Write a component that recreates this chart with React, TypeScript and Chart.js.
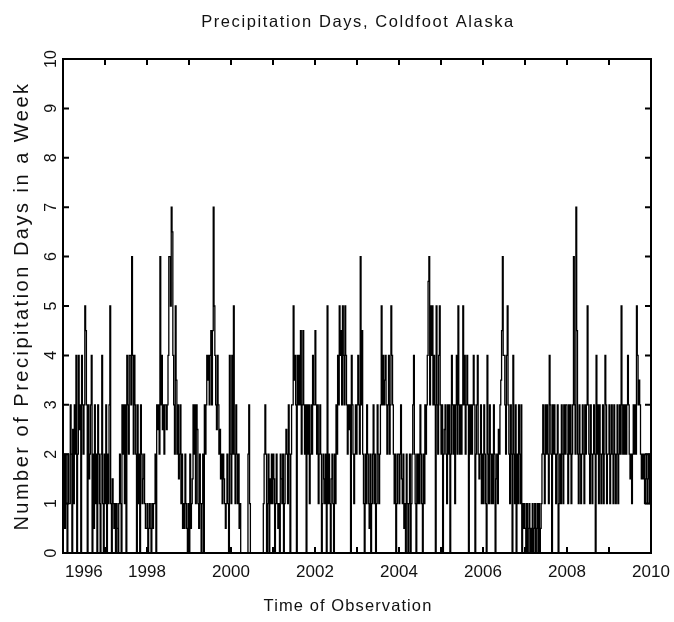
import React, { useEffect, useRef } from 'react';
import { Chart, registerables } from 'chart.js';

Chart.register(...registerables);

// ---------- text ----------
const chartTitle = 'Precipitation Days, Coldfoot Alaska';
const xAxisTitle = 'Time of Observation';
const yAxisTitle = 'Number of Precipitation Days in a Week';

// ---------- axes ----------
const xMin = 1996;
const xMax = 2010;
const yMin = 0;
const yMax = 10;
const xTickLabels = ['1996', '1998', '2000', '2002', '2004', '2006', '2008', '2010'];
const yTickLabels = ['0', '1', '2', '3', '4', '5', '6', '7', '8', '9', '10'];

// ---------- weekly precipitation days (52 weeks per year) ----------
const years = [1996, 1997, 1998, 1999, 2000, 2001, 2002, 2003, 2004, 2005, 2006, 2007, 2008, 2009];

const w1996 = [0, 1, 2, 0.5, 2, 1, 0, 2, 1, 1, 3, 2, 0, 2.5, 1, 3, 2, 4, 0, 2, 4, 2.5, 3, 0, 4, 3, 2, 3, 5, 4.5, 3, 0, 3, 1.5, 2, 3, 4, 0, 2, 0.5, 3, 1, 2, 0, 3, 2, 1, 0, 2, 4, 1, 0];
const w1997 = [2, 1, 3, 0, 2, 1, 3, 5, 1, 0, 1.5, 1, 0.5, 1, 0, 1, 0.5, 0, 1, 2, 1, 0, 3, 2, 3, 1, 3, 0, 4, 3, 2, 4, 4, 3, 6, 4, 2, 4, 3, 2, 0, 3, 1, 2, 0, 3, 2, 1, 1.5, 2, 1, 0.5];
const w1998 = [0.5, 1, 0, 0.5, 1, 0.5, 0, 1, 0.5, 1, 1, 2, 0, 3, 2.5, 3, 2, 6, 3, 4, 2.5, 3, 2, 3, 3, 2.5, 3, 4, 6, 6, 5, 7, 6.5, 4, 3, 2, 5, 3.5, 2, 3, 1.5, 2, 3, 1, 2, 0.5, 1, 0.5, 2, 1, 0.5, 0];
const w1999 = [1, 0, 2, 0.5, 1, 1.5, 3, 2, 3, 1, 3, 2.5, 1, 0.5, 2, 1, 0, 1, 2, 0, 3, 2, 3, 4, 3.5, 4, 3, 4, 4.5, 3, 4.5, 7, 5, 4, 3, 2.5, 4, 3, 2, 2.5, 1.5, 2, 1, 2, 1.5, 1, 0.5, 1, 2, 1, 0, 4];
const w2000 = [2, 1, 4, 2, 5, 2, 1, 3, 2, 1, 2, 0.5, 1, 0, 0, 0, 0, 0, 0, 0, 0, 0, 2, 3, 1, 0, 0, 0, 0, 0, 0, 0, 0, 0, 0, 0, 0, 0, 0, 0, 0, 1, 2, 3, 2, 0, 1, 2, 0, 1.5, 1, 2];
const w2001 = [1, 2, 1.5, 0, 1, 2, 1, 0.5, 1, 0, 2, 1.5, 1, 2, 0, 1, 2, 2.5, 2, 1, 3, 2, 0, 2, 3, 3, 5, 3.5, 4, 3, 0, 4, 3, 4, 3, 4.5, 2, 3, 4.5, 3, 2, 3, 0, 3, 2, 3, 1, 2, 3, 2, 4, 3];
const w2002 = [3, 4.5, 3, 2, 3, 1, 2, 3, 2, 0, 1, 2, 1.5, 1, 2, 0, 5, 1, 2, 1, 0, 1.5, 2, 1, 0, 2, 1, 3, 2, 4, 3, 5, 4, 4.5, 3, 5, 4, 3, 5, 4, 3, 2, 3, 2.5, 3, 0, 4, 3, 2, 1, 2, 3];
const w2003 = [2, 3, 4, 3, 2, 6, 3, 4.5, 2, 1, 0, 2, 1, 3, 2, 1, 0.5, 2, 0, 1, 2, 3, 1, 2, 0, 1, 3, 2, 1, 2, 3, 5, 3, 4, 3, 3.5, 4, 3, 2, 3, 4, 2, 3, 5, 4, 3, 2, 1, 2, 0, 1, 2];
const w2004 = [2, 1, 2, 3, 1.5, 1, 2, 0.5, 1, 0, 2, 1, 0, 1, 2, 0, 1, 2, 3, 4, 2, 1, 0, 2, 1, 2, 1, 3, 2, 1, 0, 2, 1, 3, 2, 3, 4, 5.5, 6, 3, 5, 4, 5, 3, 4, 3, 0, 5, 3, 2, 4, 5];
const w2005 = [3, 2, 3, 0, 2, 2.5, 3, 2, 1, 3, 2, 3, 0, 2, 4, 3, 2, 3, 1, 3, 4, 2, 5, 3, 2, 3, 2, 3, 5, 3, 4, 2, 3, 4, 3, 0, 3, 2, 3, 2, 3, 4, 3, 0, 2, 3, 4, 2, 1.5, 2, 3, 1];
const w2006 = [2, 1, 3, 2, 1, 0, 4, 2, 1, 3, 2, 1, 2, 1, 3, 2, 0, 1.5, 2, 1, 2.5, 2, 3, 3.5, 4.5, 6, 4, 4, 3, 2, 4, 5, 3, 2, 1, 3, 2, 0, 4, 2, 1, 3, 0, 2, 1, 3, 2, 1, 3, 0, 1, 0.5];
const w2007 = [1, 0.5, 0, 1, 0, 0.5, 1, 0, 0.5, 0, 1, 0, 0.5, 1, 0, 0.5, 1, 0, 1, 0, 0.5, 1, 2, 3, 2, 1, 3, 2, 3, 2, 1, 4, 3, 2, 0, 3, 2, 3, 2, 1, 2, 3, 0, 1, 2, 1, 3, 2, 1, 3, 2, 3];
const w2008 = [3, 2, 1, 3, 2, 3, 1, 2, 3, 6, 3, 2, 7, 4.5, 2, 1, 3, 2, 1, 2, 3, 2, 1, 3, 2, 3, 5, 3, 2, 1, 3, 2, 1, 2, 3, 2, 0, 4, 2, 3, 1, 3, 2, 1, 2, 3, 1, 2, 4, 3, 1, 2];
const w2009 = [2, 3, 1, 2, 3, 2, 1, 3, 2, 1, 2, 3, 1, 2, 3, 2, 5, 3, 2, 3, 2, 3, 2, 3, 4, 3, 2, 1.5, 2, 1, 2, 3, 2, 3, 2, 5, 4, 3, 3.5, 3, 2, 1.5, 2, 1.5, 2, 1, 1.5, 2, 1, 1.5, 2, 1];

const weeklyByYear = [w1996, w1997, w1998, w1999, w2000, w2001, w2002, w2003, w2004, w2005, w2006, w2007, w2008, w2009];

const FONT = '"Liberation Sans", Arial, sans-serif';
const INK = '#111111';

function buildPoints() {
  const pts: { x: number; y: number }[] = [];
  weeklyByYear.forEach((weeks, k) => {
    weeks.forEach((v, w) => {
      pts.push({ x: years[k] + w / weeks.length, y: v });
    });
  });
  return pts;
}

const framePlugin = {
  id: 'gksFrame',
  afterDraw(chart: any) {
    const { ctx, chartArea: a } = chart;
    const xs = chart.scales.x;
    const ys = chart.scales.y;
    ctx.save();
    // frame
    ctx.strokeStyle = '#000';
    ctx.lineWidth = 2;
    ctx.strokeRect(a.left, a.top, a.right - a.left, a.bottom - a.top);
    // inward ticks
    ctx.beginPath();
    xs.ticks.forEach((t: any) => {
      const px = xs.getPixelForValue(t.value);
      ctx.moveTo(px, a.top);
      ctx.lineTo(px, a.top + 6);
      ctx.moveTo(px, a.bottom);
      ctx.lineTo(px, a.bottom - 6);
    });
    ys.ticks.forEach((t: any) => {
      const py = ys.getPixelForValue(t.value);
      ctx.moveTo(a.left, py);
      ctx.lineTo(a.left + 6, py);
      ctx.moveTo(a.right, py);
      ctx.lineTo(a.right - 6, py);
    });
    ctx.stroke();

    ctx.fillStyle = INK;
    // x tick labels
    ctx.font = `17px ${FONT}`;
    ctx.textBaseline = 'middle';
    xs.ticks.forEach((t: any) => {
      const lbl = xTickLabels.find((l) => Number(l) === t.value);
      if (!lbl) return;
      let px = xs.getPixelForValue(t.value);
      if (t.value === xs.min) {
        ctx.textAlign = 'left';
        px += 2;
      } else {
        ctx.textAlign = 'center';
      }
      ctx.fillText(lbl, px, a.bottom + 19);
    });
    // y tick labels (rotated)
    ctx.font = `16px ${FONT}`;
    ctx.textAlign = 'center';
    ys.ticks.forEach((t: any) => {
      const lbl = yTickLabels.find((l) => Number(l) === t.value);
      if (!lbl) return;
      const py = ys.getPixelForValue(t.value);
      ctx.save();
      ctx.translate(a.left - 11, py);
      ctx.rotate(-Math.PI / 2);
      ctx.fillText(lbl, 0, 0);
      ctx.restore();
    });
    // titles
    ctx.font = `16.5px ${FONT}`;
    (ctx as any).letterSpacing = '1.6px';
    ctx.textAlign = 'center';
    ctx.fillText(chartTitle, (a.left + a.right) / 2 + 1, 22);

    (ctx as any).letterSpacing = '1.1px';
    ctx.fillText(xAxisTitle, (a.left + a.right) / 2 - 9, 606);

    ctx.font = `20px ${FONT}`;
    (ctx as any).letterSpacing = '2.5px';
    ctx.save();
    ctx.translate(22, (a.top + a.bottom) / 2);
    ctx.rotate(-Math.PI / 2);
    ctx.fillText(yAxisTitle, 0, 0);
    ctx.restore();
    ctx.restore();
  },
};

export default function App() {
  const ref = useRef<HTMLCanvasElement | null>(null);

  useEffect(() => {
    document.body.style.margin = '0';
    const canvas = ref.current;
    if (!canvas) return;
    const chart = new Chart(canvas, {
      type: 'line',
      data: {
        datasets: [
          {
            data: buildPoints(),
            borderColor: '#000000',
            borderWidth: 1.3,
            pointRadius: 0,
            stepped: 'after',
            fill: false,
          },
        ],
      },
      options: {
        animation: false,
        responsive: false,
        devicePixelRatio: 1,
        layout: { padding: { top: 59, right: 23, bottom: 0, left: 0 } },
        plugins: {
          legend: { display: false },
          title: { display: false },
          tooltip: { enabled: false },
        },
        scales: {
          x: {
            type: 'linear',
            min: xMin,
            max: xMax,
            ticks: { stepSize: 1, display: false },
            grid: { display: false },
            border: { display: false },
            afterFit: (s: any) => {
              s.height = 69;
            },
          },
          y: {
            type: 'linear',
            min: yMin,
            max: yMax,
            ticks: { stepSize: 1, display: false },
            grid: { display: false },
            border: { display: false },
            afterFit: (s: any) => {
              s.width = 63;
            },
          },
        },
      },
      plugins: [framePlugin],
    });
    return () => chart.destroy();
  }, []);

  return (
    <div style={{ width: 674, height: 622, background: '#ffffff' }}>
      <canvas ref={ref} width={674} height={622} style={{ display: 'block' }} />
    </div>
  );
}
